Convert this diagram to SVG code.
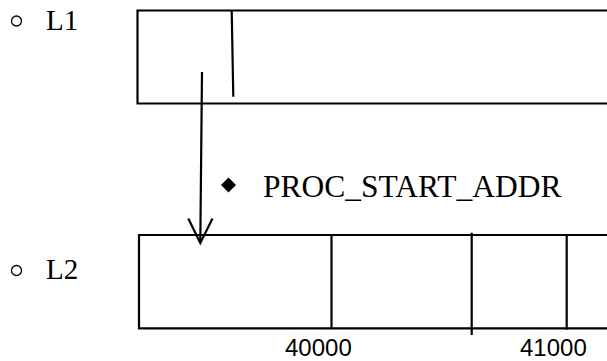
<svg xmlns="http://www.w3.org/2000/svg" width="607" height="361" viewBox="0 0 607 361">
<style>
.ln{stroke:#000;stroke-width:2.2;fill:none}
.bul{fill:none;stroke:#000;stroke-width:1.3}
.lab{font-family:"Liberation Serif","Times New Roman",serif;font-size:29px;fill:#000}
.num{font-family:"Liberation Sans",Arial,sans-serif;font-size:24px;fill:#000}
</style>
<rect width="607" height="361" fill="#fff"/>
<g id="label-L1">
<circle class="bul" cx="16.5" cy="21" r="5"/>
<text class="lab" x="46" y="29.5">L1</text>
</g>
<g id="node-L1">
<path class="ln" d="M608,10.5 H137.5 V103.5 H608"/>
<line class="ln" x1="231.7" y1="10.5" x2="233.3" y2="96.7"/>
</g>
<g id="label-PROC">
<polygon points="228.5,177.5 236,185 228.5,192.5 221,185" fill="#000"/>
<text class="lab" x="263" y="197" style="font-size:31.5px">PROC_START_ADDR</text>
</g>
<g id="label-L2">
<circle class="bul" cx="16.5" cy="270.5" r="5"/>
<text class="lab" x="46" y="278.5">L2</text>
</g>
<g id="node-L2">
<path class="ln" d="M608,235 H139 V328.3 H608"/>
<line class="ln" x1="331.5" y1="235" x2="331.5" y2="328.3"/>
<line class="ln" x1="471.7" y1="232.7" x2="471.7" y2="335"/>
<line class="ln" x1="566.7" y1="234" x2="566.7" y2="329.5"/>
<text class="num" x="285" y="356">40000</text>
<text class="num" x="520" y="356">41000</text>
</g>
<g id="connectors">
<line class="ln" x1="202" y1="72" x2="200.3" y2="242"/>
<polyline class="ln" points="188.3,218.5 200.3,243 212.5,218.5"/>
</g>
</svg>
